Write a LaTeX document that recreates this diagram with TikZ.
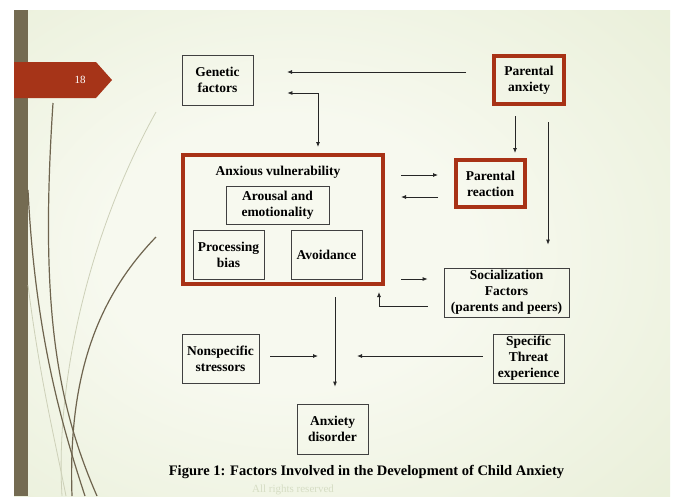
\documentclass[tikz,border=0pt]{standalone}
\usepackage{fontspec}
\setmainfont{Liberation Serif}
\usetikzlibrary{arrows.meta}

\definecolor{bgin}{RGB}{247,249,239}
\definecolor{bgout}{RGB}{222,231,199}
\definecolor{barolive}{RGB}{116,107,82}
\definecolor{tabred}{RGB}{166,52,24}
\definecolor{boxred}{RGB}{168,50,22}
\definecolor{curvedark}{RGB}{110,100,78}
\definecolor{curvelight}{RGB}{205,208,184}
\definecolor{faint}{RGB}{214,221,196}

\pgfdeclareradialshading{slidebg}{\pgfpoint{-5bp}{0bp}}{color(0bp)=(bgin); color(14bp)=(bgin); color(58bp)=(bgout); color(80bp)=(bgout)}

\tikzset{
  box/.style={draw=black!75, line width=0.8pt, align=center, inner sep=0pt,
    font=\bfseries\fontsize{13.5}{16}\selectfont},
  redbox/.style={box, draw=boxred, line width=4pt},
  tip/.style={-{Latex[length=5pt,width=4pt]}},
  arr/.style={draw=black!85, line width=0.8pt, tip},
  curve/.style={curvedark, line width=1.2pt},
  faintcurve/.style={curvelight, line width=0.8pt}
}

\begin{document}
\begin{tikzpicture}[x=1pt,y=-1pt]
  \useasboundingbox (0,0) rectangle (677,496);
  % slide background
  \fill[white] (0,0) rectangle (677,496);
  \shade[shading=slidebg] (14,10) rectangle (670,496);
  \fill[barolive] (14,10) rectangle (28,496);
  % grass lines
  \draw[faintcurve] (156,112) .. controls (90,230) and (55,380) .. (62,496);
  \draw[faintcurve] (28,285) .. controls (40,380) and (55,440) .. (66,496);
  \draw[curve] (53,103) .. controls (40,300) and (55,400) .. (97,496);
  \draw[curve] (28,190) .. controls (35,330) and (60,420) .. (85,496);
  \draw[curve] (156,237) .. controls (95,300) and (68,380) .. (72,496);
  % slide number tab
  \fill[tabred] (14,62) -- (96,62) -- (112,80) -- (96,98) -- (14,98) -- cycle;
  \node[text=white, font=\fontsize{11}{13}\selectfont] (pagenum) at (80,80) {18};

  % boxes
  \node[box, minimum width=71pt, minimum height=50pt] (genetic) at (217.5,80) {Genetic\\factors};
  \node[redbox, minimum width=70pt, minimum height=48pt] (panx) at (529,80) {Parental\\anxiety};
  \node[redbox, minimum width=200pt, minimum height=129pt] (anxvul) at (283,219.5) {};
  \node[font=\bfseries\fontsize{13.5}{16}\selectfont] (avlabel) at (278,172) {Anxious vulnerability};
  \node[box, minimum width=103pt, minimum height=38pt] (arousal) at (277.5,205) {Arousal and\\emotionality};
  \node[box, minimum width=71pt, minimum height=49pt] (procbias) at (228.5,254.5) {Processing\\bias};
  \node[box, minimum width=71pt, minimum height=49pt] (avoid) at (326.5,254.5) {Avoidance};
  \node[redbox, minimum width=69pt, minimum height=47pt] (preact) at (490.5,183.5) {Parental\\reaction};
  \node[box, minimum width=125pt, minimum height=49pt] (social) at (506.5,292.5) {Socialization\\Factors\\(parents and peers)};
  \node[box, minimum width=77pt, minimum height=49pt] (nonspec) at (220.5,358.5) {Nonspecific\\stressors};
  \node[box, minimum width=71pt, minimum height=49pt] (specific) at (528.5,358.5) {Specific\\Threat\\experience};
  \node[box, minimum width=71pt, minimum height=50pt] (anxdis) at (332.5,429) {Anxiety\\disorder};

  % connector points
  \coordinate (ga) at (287,72);
  \coordinate (gv) at (318,93);
  \coordinate (r1) at (0,175);
  \coordinate (r2) at (0,197);
  \coordinate (s1) at (0,279);
  \coordinate (s2) at (379,306);
  \coordinate (mid) at (335,356);

  % connectors
  \draw[arr, shorten <=26pt] (panx.west |- ga) -- (ga);
  \draw[arr, {Latex[length=5pt,width=4pt]}-{Latex[length=5pt,width=4pt]}, shorten >=6pt] ([xshift=34pt]genetic.east |- gv) -- (gv) -- (gv |- anxvul.north);
  \draw[arr, shorten <=10pt, shorten >=5pt] ([xshift=-14pt]panx.south) -- ([xshift=24.5pt]preact.north);
  \draw[arr, shorten <=16pt, shorten >=23pt] ([xshift=19pt]panx.south) -- ([xshift=41.5pt]social.north);
  \draw[arr] ([xshift=16pt]anxvul.east |- r1) -- ([xshift=-16pt]preact.west |- r1);
  \draw[arr] ([xshift=-16pt]preact.west |- r2) -- ([xshift=16pt]anxvul.east |- r2);
  \draw[arr] ([xshift=16pt]anxvul.east |- s1) -- ([xshift=-16pt]social.west |- s1);
  \draw[arr, shorten >=6pt] ([xshift=-16pt]social.west |- s2) -- (s2) -- (s2 |- anxvul.south);
  \draw[arr, shorten <=11pt, shorten >=17pt] (mid |- anxvul.south) -- (mid |- anxdis.north);
  \draw[arr, shorten <=11pt, shorten >=17pt] (nonspec.east |- mid) -- (mid);
  \draw[arr, shorten <=10pt, shorten >=22pt] (specific.west |- mid) -- (mid);

  % caption
  \node[font=\bfseries\fontsize{14.5}{17}\selectfont] (caption) at (366.5,472) {Figure 1: Factors Involved in the Development of Child Anxiety};
  \node[text=faint, font=\fontsize{11}{13}\selectfont] (rights) at (293,490) {All rights reserved};
\end{tikzpicture}
\end{document}
